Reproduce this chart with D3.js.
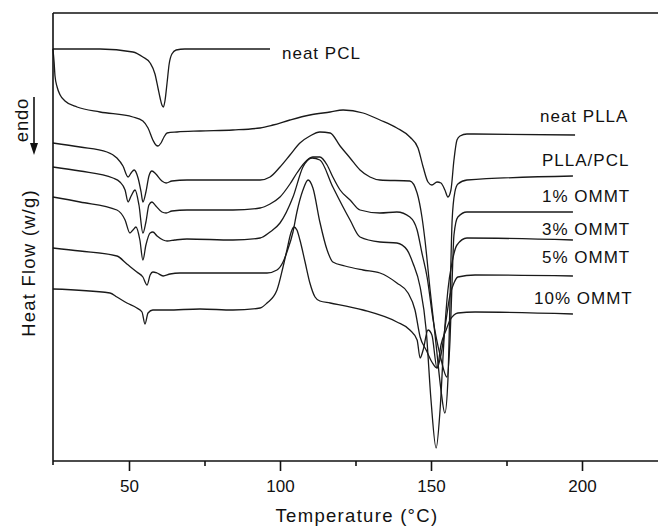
<!DOCTYPE html>
<html><head><meta charset="utf-8">
<script src="https://cdn.jsdelivr.net/npm/d3@7"></script>
<style>body{margin:0;background:#fff}svg{display:block}text{font-family:"Liberation Sans",Arial,sans-serif;fill:#111}</style>
</head><body><div id="chart"></div>
<script>
// Temperature (°C) and heat flow (arbitrary offset units, 1 unit = 0.01 W/g)
const tPCL = [24.8,40.4,51.3,54.6,57.0,58.6,59.6,60.3,60.9,61.4,61.9,62.6,63.3,64.2,65.6,68.5,96.7];
const hPCL = [412,412,409,404,398,387,373,363,356,354,360,378,397,407,411,412,412];

const tPLLA = [24.8,25.2,25.5,26.2,27.2,28.8,32.8,40.4,51.3,54.6,56.3,57.9,58.9,59.6,60.6,61.6,62.6,65.9,73.5,84.4,93.4,97.7,103.3,109.9,116.6,120.9,127.5,133.1,138.7,143.0,145.7,147.4,149.0,150.3,152.0,153.3,154.6,155.6,156.6,157.6,158.6,159.6,161.9,197.7];
const hPLLA = [412,399,385,374,366,360,354,349,344,340,333,321,316,315,318,324,328,329,330,331,333,336,341,346,349,351,348,341,333,324,313,294,279,276,279,278,271,264,271,301,321,325,327,326];

const tBlend = [24.8,33.8,42.7,46.0,48.0,49.7,50.7,51.7,53.0,54.0,54.6,55.6,56.6,57.6,58.9,60.9,62.3,64.2,69.2,84.4,93.4,96.7,100.0,103.3,106.6,109.9,113.2,116.6,119.9,123.2,126.5,129.8,133.1,143.0,145.4,147.0,148.0,149.7,151.7,153.3,154.6,155.6,156.3,157.0,157.9,158.9,161.9,197.0];
const hBlend = [318,314,309,303,295,284,288,291,283,269,259,269,285,290,287,280,278,280,281,281,281,284,294,306,318,325,329,328,315,303,291,284,281,280,268,244,221,171,116,71,48,81,161,241,269,277,281,285];

const t1 = [24.8,33.8,44.7,47.0,48.7,49.7,50.7,52.0,53.3,54.6,55.6,56.6,57.6,58.9,60.9,62.3,64.2,69.2,84.4,93.4,96.7,100.0,103.3,105.6,109.0,110.9,113.2,115.6,117.5,119.9,123.2,126.5,133.1,138.7,143.0,145.4,147.0,148.7,150.7,153.0,155.3,156.3,157.0,157.6,158.9,161.9,197.0];
const h1 = [294,290,283,279,271,259,265,271,256,228,239,256,259,255,249,248,250,251,251,253,257,264,277,288,301,304,304,296,284,271,261,251,248,249,244,231,208,184,141,106,84,121,181,226,244,249,249];

const t3 = [24.8,33.8,46.0,48.7,50.3,51.3,52.3,53.6,54.6,55.6,57.0,57.9,59.3,61.3,62.6,65.2,69.2,84.4,93.4,96.7,100.0,104.3,107.6,110.6,113.2,117.5,123.2,126.5,133.1,138.7,142.1,144.0,146.4,148.4,150.0,151.7,153.0,154.3,155.6,157.0,158.6,161.9,197.0];
const h3 = [264,259,251,241,228,231,234,221,201,216,228,229,225,221,220,221,222,221,223,229,238,264,294,303,301,274,241,224,219,218,211,198,174,131,61,13,51,121,171,199,216,223,221];

const t5 = [24.8,33.8,46.0,49.3,52.6,54.6,56.0,57.0,57.9,59.3,61.3,63.6,66.9,84.4,95.7,99.0,101.0,102.3,104.3,105.6,107.6,109.3,110.9,113.2,115.6,117.5,121.5,127.5,133.1,138.7,142.4,144.7,146.4,148.4,150.3,152.0,153.3,155.0,156.3,157.6,158.9,164.6,197.0];
const h5 = [213,210,205,197,189,184,176,186,189,188,185,187,188,188,188,191,199,209,229,249,271,281,273,239,211,199,195,191,188,178,168,151,124,111,99,93,106,141,166,178,184,186,185];

const t10 = [24.8,43.7,46.0,49.3,52.6,54.3,55.3,56.3,57.9,62.6,73.5,84.4,93.4,95.7,99.0,101.0,102.3,103.6,104.6,105.6,106.6,108.3,109.9,111.6,113.2,116.6,127.5,138.7,143.0,145.4,146.4,147.4,149.0,150.3,152.0,153.3,155.0,156.3,157.6,158.9,164.6,197.0];
const h10 = [172,168,164,158,153,149,137,148,151,151,152,151,153,158,171,194,211,228,234,231,221,199,178,164,160,158,151,139,131,121,103,111,131,126,93,116,131,141,146,148,149,147];

const seriesNames = ["neat PCL","neat PLLA","PLLA/PCL","1% OMMT","3% OMMT","5% OMMT","10% OMMT"];
const xTicks = [50,100,150,200];
const xMinorTicks = [75,125,175];

const W = 658, H = 526;
const svg = d3.select("#chart").append("svg").attr("width",W).attr("height",H);
svg.append("rect").attr("width",W).attr("height",H).attr("fill","#fff");

const x = d3.scaleLinear().domain([25,225]).range([53.5,657.5]);
const y = d3.scaleLinear().domain([0,448]).range([461,13]);

const all = [[tPCL,hPCL],[tPLLA,hPLLA],[tBlend,hBlend],[t1,h1],[t3,h3],[t5,h5],[t10,h10]];
const line = d3.line().x(d=>x(d[0])).y(d=>y(d[1])).curve(d3.curveMonotoneX);
all.forEach(([t,h],i)=>{
  const pts = t.map((v,k)=>[v,h[k]]);
  svg.append("path").datum(pts).attr("d",line)
    .attr("fill","none").attr("stroke","#1a1a1a").attr("stroke-width",1.3)
    .attr("stroke-linejoin","round");
});

// frame
svg.append("line").attr("x1",53).attr("x2",658).attr("y1",13).attr("y2",13).attr("stroke","#111").attr("stroke-width",1.6);
svg.append("line").attr("x1",53).attr("x2",53).attr("y1",13).attr("y2",465).attr("stroke","#111").attr("stroke-width",1.6);

// bottom axis
const ax = svg.append("g").attr("transform","translate(0,461)")
  .call(d3.axisBottom(x).tickValues(xTicks).tickSize(10).tickPadding(9).tickFormat(d3.format("d")));
ax.select(".domain").attr("stroke","#111").attr("stroke-width",1.6).attr("d","M53,0H658");
ax.selectAll(".tick line").attr("stroke","#111").attr("stroke-width",1.6);
ax.selectAll(".tick text").attr("font-size",17).attr("font-family","Liberation Sans, Arial, sans-serif").attr("fill","#111");
svg.append("g").attr("transform","translate(0,461)")
  .call(d3.axisBottom(x).tickValues(xMinorTicks).tickSize(5).tickFormat(""))
  .call(g=>g.select(".domain").remove())
  .selectAll(".tick line").attr("stroke","#111").attr("stroke-width",1.6);

// axis titles
svg.append("text").attr("x",357).attr("y",522).attr("text-anchor","middle")
  .attr("font-size",18.5).attr("letter-spacing",1.3).text("Temperature (°C)");
svg.append("text").attr("transform","translate(35,263) rotate(-90)").attr("text-anchor","middle")
  .attr("font-size",18.5).attr("letter-spacing",1.2).text("Heat Flow (w/g)");
svg.append("text").attr("transform","translate(28,120) rotate(-90)").attr("text-anchor","middle")
  .attr("font-size",18.5).attr("letter-spacing",0.8).text("endo");
svg.append("line").attr("x1",34).attr("x2",34).attr("y1",97).attr("y2",145).attr("stroke","#111").attr("stroke-width",1.6);
svg.append("path").attr("d","M30,143 L38,143 L34,155 Z").attr("fill","#111");

// series labels
const labelPos = [[282,59],[540,122],[542,166],[542,202],[542,235],[542,263],[534,304]];
seriesNames.forEach((n,i)=>{
  svg.append("text").attr("x",labelPos[i][0]).attr("y",labelPos[i][1])
    .attr("font-size",17).attr("letter-spacing",1).text(n);
});
</script></body></html>
